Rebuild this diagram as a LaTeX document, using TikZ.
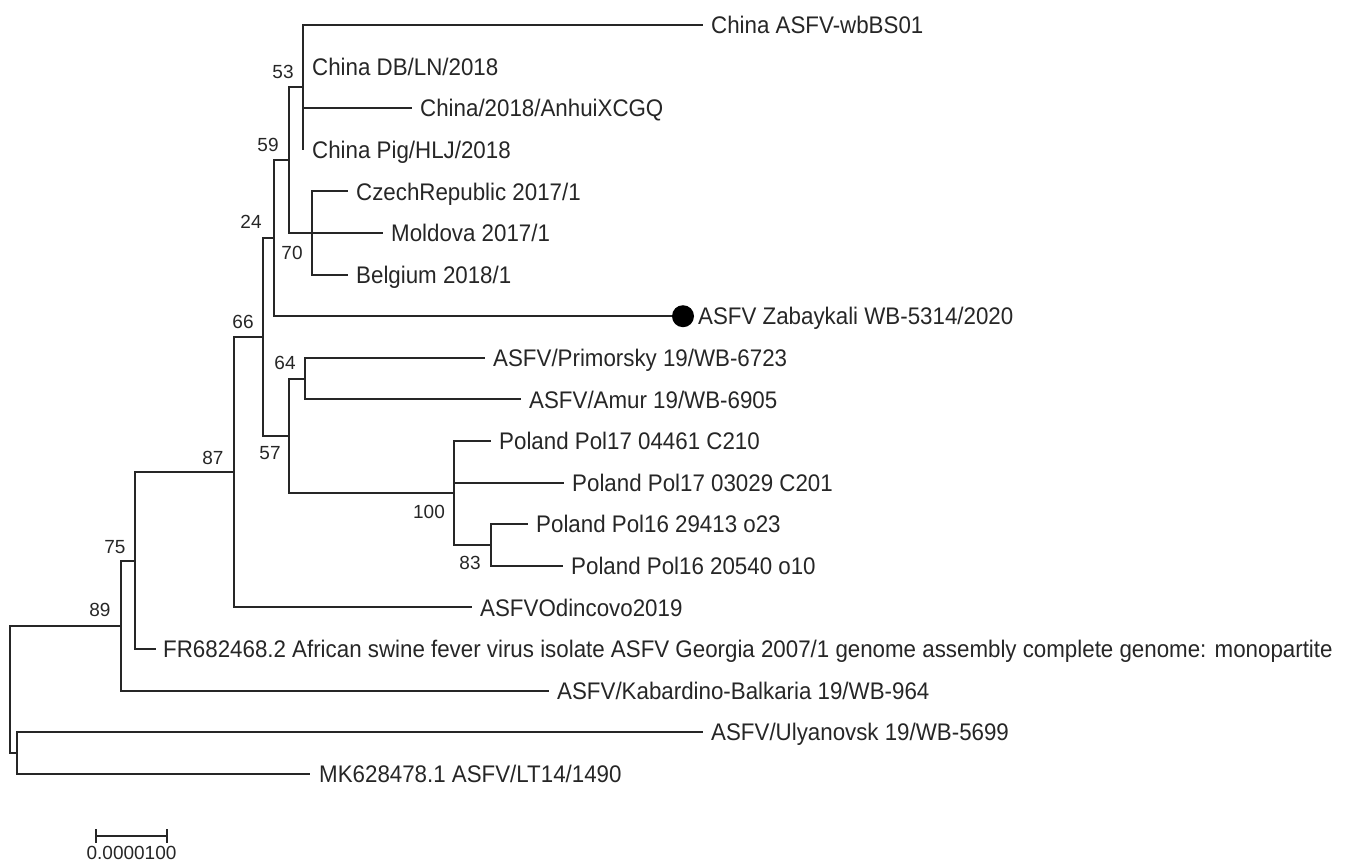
\documentclass[tikz,border=0pt]{standalone}
\usepackage{fontspec}
\setmainfont[FakeStretch=0.93]{Liberation Sans}
\newfontfamily\numfont{Liberation Sans}
\begin{document}
\begin{tikzpicture}[x=1pt,y=-1pt,
  branch/.style={line width=2pt, draw=black!85},
  leaf/.style={anchor=base west, inner sep=0pt, yshift=-8.6pt, text=black!85, font=\fontsize{24}{28}\selectfont},
  boot/.style={inner sep=0pt, text=black!85, font=\numfont\fontsize{19}{22}\selectfont},
  tipdot/.style={circle, fill=black, inner sep=0pt, minimum size=22pt}]
\useasboundingbox (0,0) rectangle (1351,862);
% internal nodes
\coordinate (r)    at (10,689.3);
\coordinate (nX)   at (17,753);
\coordinate (n89)  at (121,625.6);
\coordinate (n75)  at (135,560.6);
\coordinate (n87)  at (234,472.2);
\coordinate (n66)  at (263,337);
\coordinate (n24)  at (274,238.2);
\coordinate (n59)  at (289,160.2);
\coordinate (n53)  at (303,87.4);
\coordinate (n70)  at (312,233);
\coordinate (n57)  at (289,435.8);
\coordinate (n64)  at (305,378.6);
\coordinate (n100) at (454,493);
\coordinate (n83)  at (491,545);
% tips
\coordinate (t0)  at (703,25);
\coordinate (t1)  at (303,66.6);
\coordinate (t2)  at (412,108.2);
\coordinate (t3)  at (303,149.8);
\coordinate (t4)  at (348,191.4);
\coordinate (t5)  at (383,233);
\coordinate (t6)  at (348,274.6);
\coordinate (t7)  at (683,316.2);
\coordinate (t8)  at (485,357.8);
\coordinate (t9)  at (521,399.4);
\coordinate (t10) at (491,441);
\coordinate (t11) at (564,482.6);
\coordinate (t12) at (528,524.2);
\coordinate (t13) at (563,565.8);
\coordinate (t14) at (472,607.4);
\coordinate (t15) at (156,649);
\coordinate (t16) at (549,690.6);
\coordinate (t17) at (703,732.2);
\coordinate (t18) at (310,773.8);
% branches
\draw[branch] (r) |- (n89);  \draw[branch] (r) |- (nX);
\draw[branch] (nX) |- (t17); \draw[branch] (nX) |- (t18);
\draw[branch] (n89) |- (n75); \draw[branch] (n89) |- (t16);
\draw[branch] (n75) |- (n87); \draw[branch] (n75) |- (t15);
\draw[branch] (n87) |- (n66); \draw[branch] (n87) |- (t14);
\draw[branch] (n66) |- (n24); \draw[branch] (n66) |- (n57);
\draw[branch] (n24) |- (n59); \draw[branch] (n24) |- (t7);
\draw[branch] (n59) |- (n53); \draw[branch] (n59) |- (n70);
\draw[branch] (n53) |- (t0); \draw[branch] (n53) |- (t1);
\draw[branch] (n53) |- (t2); \draw[branch] (n53) |- (t3);
\draw[branch] (n70) |- (t4); \draw[branch] (n70) -- (t5); \draw[branch] (n70) |- (t6);
\draw[branch] (n57) |- (n64); \draw[branch] (n57) |- (n100);
\draw[branch] (n64) |- (t8); \draw[branch] (n64) |- (t9);
\draw[branch] (n100) |- (t10); \draw[branch] (n100) |- (t11); \draw[branch] (n100) |- (n83);
\draw[branch] (n83) |- (t12); \draw[branch] (n83) |- (t13);
\node[tipdot] (dot) at (t7) {};
% leaf labels
\node[leaf] (L0)  at ([xshift=8pt]t0)  {China ASFV-wbBS01};
\node[leaf] (L1)  at ([xshift=9pt]t1)  {China DB/LN/2018};
\node[leaf] (L2)  at ([xshift=8pt]t2)  {China/2018/AnhuiXCGQ};
\node[leaf] (L3)  at ([xshift=9pt]t3)  {China Pig/HLJ/2018};
\node[leaf] (L4)  at ([xshift=8pt]t4)  {CzechRepublic 2017/1};
\node[leaf] (L5)  at ([xshift=8pt]t5)  {Moldova 2017/1};
\node[leaf] (L6)  at ([xshift=8pt]t6)  {Belgium 2018/1};
\node[leaf] (L7)  at ([xshift=15pt]t7) {ASFV Zabaykali WB-5314/2020};
\node[leaf] (L8)  at ([xshift=8pt]t8)  {ASFV/Primorsky 19/WB-6723};
\node[leaf] (L9)  at ([xshift=8pt]t9)  {ASFV/Amur 19/WB-6905};
\node[leaf] (L10) at ([xshift=8pt]t10) {Poland Pol17 04461 C210};
\node[leaf] (L11) at ([xshift=8pt]t11) {Poland Pol17 03029 C201};
\node[leaf] (L12) at ([xshift=8pt]t12) {Poland Pol16 29413 o23};
\node[leaf] (L13) at ([xshift=8pt]t13) {Poland Pol16 20540 o10};
\node[leaf] (L14) at ([xshift=8pt]t14) {ASFVOdincovo2019};
\node[leaf] (L15) at ([xshift=7pt]t15) {FR682468.2 African swine fever virus isolate ASFV Georgia 2007/1 genome assembly complete genome: monopartite};
\node[leaf] (L16) at ([xshift=8pt]t16) {ASFV/Kabardino-Balkaria 19/WB-964};
\node[leaf] (L17) at ([xshift=8pt]t17) {ASFV/Ulyanovsk 19/WB-5699};
\node[leaf] (L18) at ([xshift=9pt]t18) {MK628478.1 ASFV/LT14/1490};
% bootstrap values
\node[boot] (b53)  at (283,72)  {53};
\node[boot] (b59)  at (268,145) {59};
\node[boot] (b24)  at (251,222) {24};
\node[boot] (b70)  at (292,253) {70};
\node[boot] (b66)  at (243,322) {66};
\node[boot] (b64)  at (285,363) {64};
\node[boot] (b57)  at (270,453) {57};
\node[boot] (b87)  at (213,458) {87};
\node[boot] (b100) at (429,512) {100};
\node[boot] (b83)  at (470,563) {83};
\node[boot] (b75)  at (115,547) {75};
\node[boot] (b89)  at (100,610) {89};
% scale bar
\coordinate (sbL) at (96,836);
\coordinate (sbR) at (167,836);
\draw[line width=1.8pt, draw=black!85] (sbL) -- (sbR);
\draw[line width=1.8pt, draw=black!85] ([yshift=7pt]sbL) -- ([yshift=-7pt]sbL);
\draw[line width=1.8pt, draw=black!85] ([yshift=7pt]sbR) -- ([yshift=-7pt]sbR);
\node[boot] (sblab) at (131.5,853) {0.0000100};
\end{tikzpicture}
\end{document}
